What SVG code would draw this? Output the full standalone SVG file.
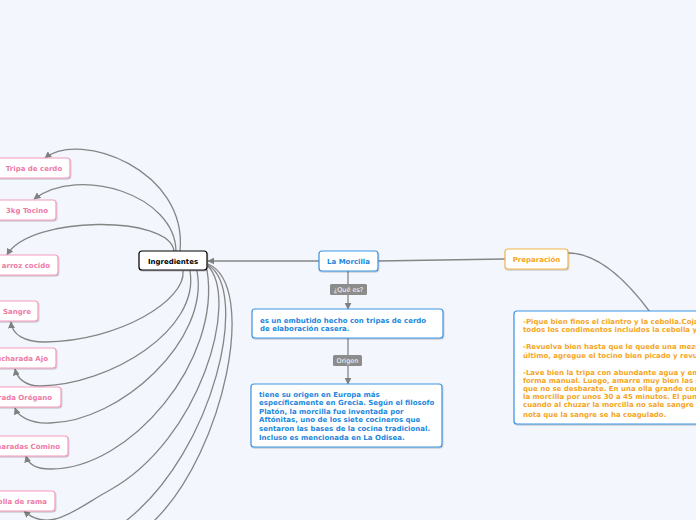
<svg xmlns="http://www.w3.org/2000/svg" width="696" height="520" viewBox="0 0 696 520">
<defs>
<marker id="ah" viewBox="0 0 10 10" refX="9" refY="5" markerWidth="7" markerHeight="7" markerUnits="userSpaceOnUse" orient="auto">
<path d="M0,0 L10,5 L0,10 z" fill="#808080"/>
</marker>
<filter id="sh" x="-10%" y="-20%" width="120%" height="150%">
<feDropShadow dx="0.5" dy="1" stdDeviation="0.7" flood-color="#000" flood-opacity="0.25"/>
</filter>
</defs>
<style>
text{font-family:"DejaVu Sans","Verdana",sans-serif;font-weight:bold;font-size:7px}
.n{fill:#fff;stroke-width:1.2;filter:url(#sh)}
.pink rect{stroke:#f39bbd}
.pink text{fill:#ee7aa6}
.blue rect{stroke:#3b95e3}
.blue text{fill:#2287dd}
.orange rect{stroke:#f2b54c}
.orange text{fill:#f5a623}
.lab rect{fill:#8c8c8c}
.lab text{fill:#fff;font-weight:normal;font-size:6.5px}
.c{fill:none;stroke:#858585;stroke-width:1.3}
</style>
<rect width="696" height="520" fill="#f3f6fd"/>
<g id="connectors">
<path class="c" d="M319,261 L208,261" marker-end="url(#ah)"/>
<path class="c" d="M378,261 L505,259"/>
<path class="c" d="M568,253 C600,253 630,285 650,312"/>
<path class="c" d="M348,271 L348,309" marker-end="url(#ah)"/>
<path class="c" d="M348,338 L348,384" marker-end="url(#ah)"/>
<path class="c" d="M180,251 C188,170 80,130 45,158" marker-end="url(#ah)"/>
<path class="c" d="M176,251 C175,195 80,165 34,199" marker-end="url(#ah)"/>
<path class="c" d="M174,251 C170,215 30,215 7,255" marker-end="url(#ah)"/>
<path class="c" d="M183,271 C186,300 120,341 45,342 C25,342 12,335 11,322" marker-end="url(#ah)"/>
<path class="c" d="M190,271 C200,330 110,385 40,386 C25,386 17,378 15,369" marker-end="url(#ah)"/>
<path class="c" d="M197,271 C210,340 120,422 50,423 C30,424 18,416 15,408" marker-end="url(#ah)"/>
<path class="c" d="M207,270 C222,360 130,470 50,469 C35,469 28,463 26,456" marker-end="url(#ah)"/>
<path class="c" d="M208,266 C240,300 200,440 110,490 C80,506 50,535 24,511" marker-end="url(#ah)"/>
<path class="c" d="M208,265 C250,290 215,450 127,520 L110,535"/>
<path class="c" d="M208,264 C258,285 225,450 155,520 L140,538"/>
</g>
<g id="ingredientes">
<rect class="n" x="139" y="251" width="68" height="19" rx="3" stroke="#000"/>
<text x="173" y="263.5" text-anchor="middle" fill="#000">Ingredientes</text>
</g>
<g id="la-morcilla" class="blue">
<rect class="n" x="319" y="251" width="59" height="20" rx="3"/>
<text x="348.5" y="263.5" text-anchor="middle">La Morcilla</text>
</g>
<g id="preparacion" class="orange">
<rect class="n" x="505" y="249" width="63" height="20" rx="3"/>
<text x="536.5" y="261.5" text-anchor="middle">Preparación</text>
</g>
<g id="que-es" class="lab">
<rect x="330" y="284" width="37" height="11" rx="1.5"/>
<text x="348.5" y="292" text-anchor="middle">¿Qué es?</text>
</g>
<g id="origen" class="lab">
<rect x="333" y="355" width="29" height="11" rx="1.5"/>
<text x="347.5" y="363" text-anchor="middle">Origen</text>
</g>
<g id="definicion" class="blue">
<rect class="n" x="252" y="309" width="191" height="29" rx="3"/>
<text x="260" y="322.5">es un embutido hecho con tripas de cerdo</text>
<text x="260" y="331">de elaboración casera.</text>
</g>
<g id="historia" class="blue">
<rect class="n" x="251" y="384" width="191" height="63" rx="3"/>
<text x="259" y="396.5">tiene su origen en Europa más</text>
<text x="259" y="405">específicamente en Grecia. Según el filosofo</text>
<text x="259" y="413.7">Platón, la morcilla fue inventada por</text>
<text x="259" y="422.3">Aftónitas, uno de los siete cocineros que</text>
<text x="259" y="431">sentaron las bases de la cocina tradicional.</text>
<text x="259" y="439.5">Incluso es mencionada en La Odisea.</text>
</g>
<g id="receta">
<rect class="n" x="514" y="311" width="200" height="113" rx="3" stroke="#3b95e3"/>
<g fill="#f5a623">
<text x="523" y="324.2">-Pique bien finos el cilantro y la cebolla.Coja</text>
<text x="523" y="331.8">todos los condimentos incluidos la cebolla y</text>
<text x="523" y="349.2">-Revuelva bien hasta que le quede una mezcla</text>
<text x="523" y="357.5">último, agregue el tocino bien picado y revuelva</text>
<text x="523" y="374.8">-Lave bien la tripa con abundante agua y empiece</text>
<text x="523" y="382.8">forma manual. Luego, amarre muy bien las puntas</text>
<text x="523" y="390.8">que no se desbarate. En una olla grande con</text>
<text x="523" y="398.8">la morcilla por unos 30 a 45 minutos. El punto</text>
<text x="523" y="407.2">cuando al chuzar la morcilla no sale sangre es</text>
<text x="523" y="416.5">nota que la sangre se ha coagulado.</text>
</g>
</g>
<g id="tripa" class="pink">
<rect class="n" x="-5" y="158" width="75" height="20" rx="3"/>
<text x="34" y="171" text-anchor="middle">Tripa de cerdo</text>
</g>
<g id="tocino" class="pink">
<rect class="n" x="-5" y="200" width="61" height="20" rx="3"/>
<text x="27" y="213" text-anchor="middle">3kg Tocino</text>
</g>
<g id="arroz" class="pink">
<rect class="n" x="-60" y="255" width="118" height="20" rx="3"/>
<text x="50" y="268" text-anchor="end">arroz cocido</text>
</g>
<g id="sangre" class="pink">
<rect class="n" x="-60" y="301" width="98" height="20" rx="3"/>
<text x="31" y="314" text-anchor="end">Sangre</text>
</g>
<g id="ajo" class="pink">
<rect class="n" x="-60" y="348" width="116" height="20" rx="3"/>
<text x="48" y="361" text-anchor="end">cucharada Ajo</text>
</g>
<g id="oregano" class="pink">
<rect class="n" x="-60" y="387" width="121" height="20" rx="3"/>
<text x="52" y="400" text-anchor="end">1 cucharada Orégano</text>
</g>
<g id="comino" class="pink">
<rect class="n" x="-60" y="436" width="128" height="20" rx="3"/>
<text x="60" y="449" text-anchor="end">2 cucharadas Comino</text>
</g>
<g id="cebolla" class="pink">
<rect class="n" x="-60" y="491" width="115" height="20" rx="3"/>
<text x="47" y="504" text-anchor="end">Cebolla de rama</text>
</g>
</svg>
